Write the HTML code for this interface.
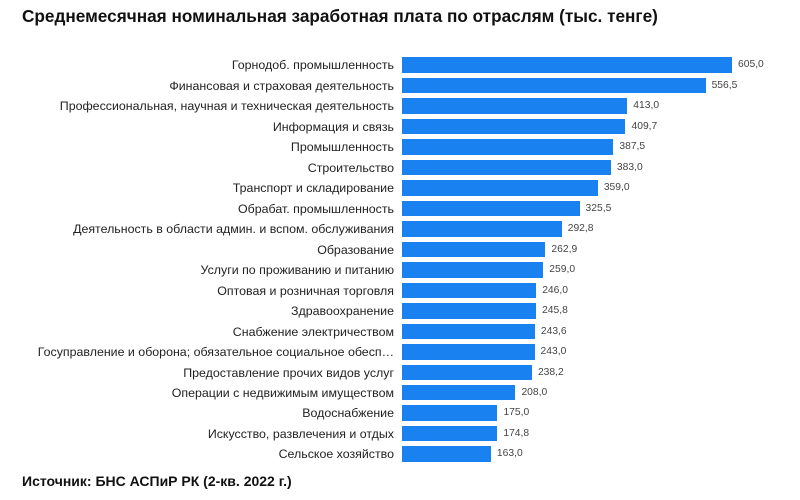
<!DOCTYPE html>
<html><head><meta charset="utf-8"><style>
body{margin:0;width:800px;height:500px;background:#fff;position:relative;overflow:hidden;font-family:"Liberation Sans",sans-serif}
.t{position:absolute;left:22px;top:6px;font-size:17.2px;font-weight:bold;color:#111}
.s{position:absolute;left:22px;top:473px;font-size:14px;font-weight:bold;color:#111}
.r{position:absolute;left:0;width:800px;height:16px}
.l{position:absolute;right:406px;top:0;font-size:12.4px;line-height:16px;color:#222;white-space:nowrap}
.b{position:absolute;left:402px;top:0;height:15.5px;background:#1a82f0}
.v{position:absolute;top:0;font-size:10.3px;line-height:16px;color:#444}
</style></head><body>
<div class="t">Среднемесячная номинальная заработная плата по отраслям (тыс. тенге)</div>
<div id="c"></div>
<div class="s">Источник: БНС АСПиР РК (2-кв. 2022 г.)</div>
<script>
var d=[["Горнодоб. промышленность",605.0],["Финансовая и страховая деятельность",556.5],["Профессиональная, научная и техническая деятельность",413.0],["Информация и связь",409.7],["Промышленность",387.5],["Строительство",383.0],["Транспорт и складирование",359.0],["Обрабат. промышленность",325.5],["Деятельность в области админ. и вспом. обслуживания",292.8],["Образование",262.9],["Услуги по проживанию и питанию",259.0],["Оптовая и розничная торговля",246.0],["Здравоохранение",245.8],["Снабжение электричеством",243.6],["Госуправление и оборона; обязательное социальное обесп…",243.0],["Предоставление прочих видов услуг",238.2],["Операции с недвижимым имуществом",208.0],["Водоснабжение",175.0],["Искусство, развлечения и отдых",174.8],["Сельское хозяйство",163.0]];
var h="";d.forEach(function(e,i){var y=57.3+i*20.48,w=e[1]*0.5455;
h+='<div class="r" style="top:'+y+'px"><div class="l">'+e[0]+'</div><div class="b" style="width:'+w+'px"></div><div class="v" style="left:'+(402+w+6)+'px">'+e[1].toFixed(1).replace(".",",")+'</div></div>';});
document.getElementById("c").innerHTML=h;
</script>
</body></html>
